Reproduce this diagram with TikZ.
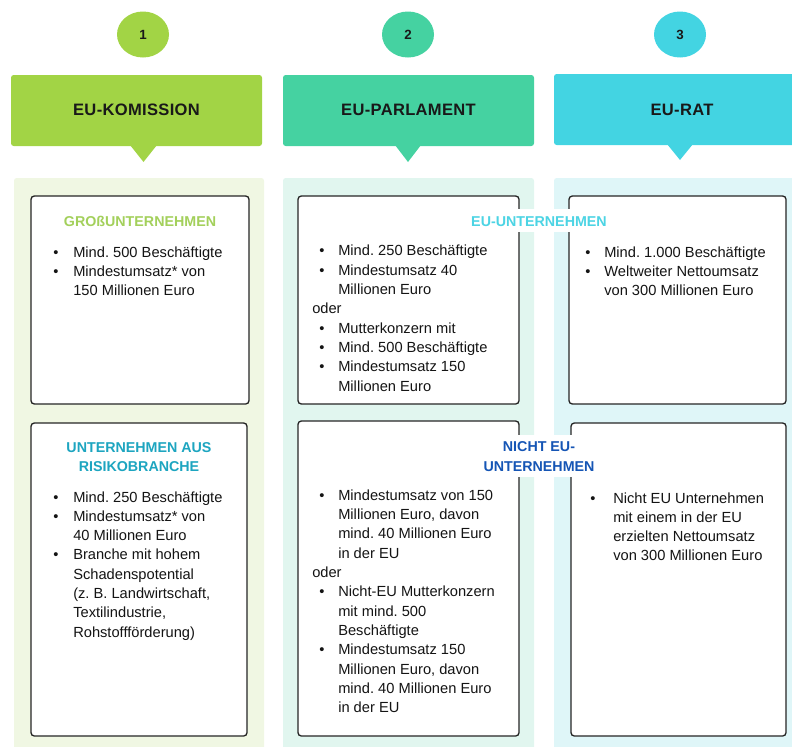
\documentclass[tikz,border=0pt]{standalone}
\usepackage{fontspec}
\setmainfont{Liberation Sans}
\newfontfamily\hdrfont[LetterSpace=2]{Liberation Sans}
\usetikzlibrary{fit,shapes.geometric}
\definecolor{hA}{HTML}{A2D445}
\definecolor{hB}{HTML}{45D2A1}
\definecolor{hC}{HTML}{43D4E2}
\definecolor{pA}{HTML}{F0F7E3}
\definecolor{pB}{HTML}{E1F6EF}
\definecolor{pC}{HTML}{DFF6F8}
\definecolor{tGreen}{HTML}{A3D05B}
\definecolor{tTeal}{HTML}{1DA5C0}
\definecolor{tCyan}{HTML}{4CD4E4}
\definecolor{tBlue}{HTML}{1555B5}
\begin{document}
\frenchspacing
\begin{tikzpicture}[x=0.75pt,y=-0.75pt,
  body/.style={anchor=base west, inner sep=0pt, font=\fontsize{11}{13}\selectfont, text=black!92},
  bul/.style={anchor=base, inner sep=0pt, font=\fontsize{11}{13}\selectfont, text=black!92},
  ttl/.style={anchor=base, inner sep=0pt, font=\fontsize{10.7}{13}\selectfont\bfseries},
  hdr/.style={inner sep=0pt, rounded corners=2pt},
  htxt/.style={anchor=base, inner sep=0pt, font=\hdrfont\fontsize{12.4}{14}\selectfont\bfseries, text=black!90},
  panel/.style={inner sep=0pt, rounded corners=2pt},
  ibox/.style={draw=black!85, line width=1pt, fill=white, rounded corners=2.5pt, inner sep=0pt},
  num/.style={ellipse, inner sep=0pt, minimum width=39pt, minimum height=34.5pt, font=\fontsize{10}{12}\selectfont\bfseries, text=black!90},
  wbg/.style={fill=white, inner sep=0pt}
]
\useasboundingbox (0,0) rectangle (792,746);

% number circles
\node[num, fill=hA] (n1) at (143,34.5) {1};
\node[num, fill=hB] (n2) at (408,34.5) {2};
\node[num, fill=hC] (n3) at (680,34.5) {3};

% headers
\node[hdr, fill=hA, fit={(11,75) (262,146)}] (h1) {};
\node[hdr, fill=hB, fit={(283,75) (534,146)}] (h2) {};
\node[hdr, fill=hC, fit={(554,74) (806,145)}] (h3) {};
\fill[hA] (130,145) -- (143.5,162) -- (157,145) -- cycle;
\fill[hB] (395,145) -- (408,162) -- (421,145) -- cycle;
\fill[hC] (667,144) -- (680,160) -- (693,144) -- cycle;
\node[htxt] (h1t) at (136.5,115.7) {EU-KOMISSION};
\node[htxt] (h2t) at (408.5,115.7) {EU-PARLAMENT};
\node[htxt] (h3t) at (682,115.5) {EU-RAT};

% panels
\node[panel, fill=pA, fit={(14,178) (264,752)}] (pa) {};
\node[panel, fill=pB, fit={(283,178) (534,752)}] (pb) {};
\node[panel, fill=pC, fit={(554,178) (806,752)}] (pc) {};

% inner boxes
\node[ibox, fit={(31,196) (249,404)}] (b1a) {};
\node[ibox, fit={(31,423) (247,736)}] (b1b) {};
\node[ibox, fit={(298,196) (519,404)}] (b2a) {};
\node[ibox, fit={(298,421) (519,736)}] (b2b) {};
\node[ibox, fit={(569,196) (786,404)}] (b3a) {};
\node[ibox, fit={(571,423) (786,736)}] (b3b) {};

% titles
\node[ttl, text=tGreen] (t1a) at (140,226) {GROßUNTERNEHMEN};
\node[ttl, text=tTeal] (t1b1) at (139,452.3) {UNTERNEHMEN AUS};
\node[ttl, text=tTeal] (t1b2) at (139,471.7) {RISIKOBRANCHE};

% box 1a
\foreach \t [count=\i] in {{Mind. 500 Beschäftigte},{Mindestumsatz* von},{150 Millionen Euro}}
  \node[body] (l1a-\i) at (73,{257+(\i-1)*19.33}) {\t};
\foreach \i in {1,2}
  \node[bul] (d1a-\i) at (56,{257+(\i-1)*19.33}) {•};

% box 2a
\foreach \t [count=\i] in {{Mind. 250 Beschäftigte},{Mindestumsatz 40},{Millionen Euro}}
  \node[body] (l2a-\i) at (338,{255.7+(\i-1)*19.33}) {\t};
\node[body] (o2a) at (312,{255.7+3*19.33}) {oder};
\foreach \t [count=\i from 5] in {{Mutterkonzern mit},{Mind. 500 Beschäftigte},{Mindestumsatz 150},{Millionen Euro}}
  \node[body] (l2a-\i) at (338,{255.7+(\i-1)*19.33}) {\t};
\foreach \i in {1,2,5,6,7}
  \node[bul] (d2a-\i) at (322,{255.7+(\i-1)*19.33}) {•};

% box 3a
\foreach \t [count=\i] in {{Mind. 1.000 Beschäftigte},{Weltweiter Nettoumsatz},{von 300 Millionen Euro}}
  \node[body] (l3a-\i) at (604,{257.3+(\i-1)*19.33}) {\t};
\foreach \i in {1,2}
  \node[bul] (d3a-\i) at (588,{257.3+(\i-1)*19.33}) {•};

% box 1b
\foreach \t [count=\i] in {{Mind. 250 Beschäftigte},{Mindestumsatz* von},{40 Millionen Euro},{Branche mit hohem},{Schadenspotential},{(z. B. Landwirtschaft,},{Textilindustrie,},{Rohstoffförderung)}}
  \node[body] (l1b-\i) at (73,{502+(\i-1)*19.33}) {\t};
\foreach \i in {1,2,4}
  \node[bul] (d1b-\i) at (56,{502+(\i-1)*19.33}) {•};

% box 2b
\foreach \t [count=\i] in {{Mindestumsatz von 150},{Millionen Euro, davon},{mind. 40 Millionen Euro},{in der EU}}
  \node[body] (l2b-\i) at (338,{500.3+(\i-1)*19.33}) {\t};
\node[body] (o2b) at (312,{500.3+4*19.33}) {oder};
\foreach \t [count=\i from 6] in {{Nicht-EU Mutterkonzern},{mit mind. 500},{Beschäftigte},{Mindestumsatz 150},{Millionen Euro, davon},{mind. 40 Millionen Euro},{in der EU}}
  \node[body] (l2b-\i) at (338,{500.3+(\i-1)*19.33}) {\t};
\foreach \i in {1,6,9}
  \node[bul] (d2b-\i) at (322,{500.3+(\i-1)*19.33}) {•};

% box 3b
\foreach \t [count=\i] in {{Nicht EU Unternehmen},{mit einem in der EU},{erzielten Nettoumsatz},{von 300 Millionen Euro}}
  \node[body] (l3b-\i) at (613,{503+(\i-1)*19.33}) {\t};
\node[bul] (d3b-1) at (593,503) {•};

% overlay labels
\node[wbg, fit={(466,209) (611,232)}] (euubg) {};
\node[ttl, text=tCyan] (euu) at (539,226.7) {EU-UNTERNEHMEN};
\node[wbg, fit={(479,435) (599,477)}] (neubg) {};
\node[ttl, text=tBlue] (neu1) at (539,451) {NICHT EU-};
\node[ttl, text=tBlue] (neu2) at (539,471) {UNTERNEHMEN};
\end{tikzpicture}
\end{document}
